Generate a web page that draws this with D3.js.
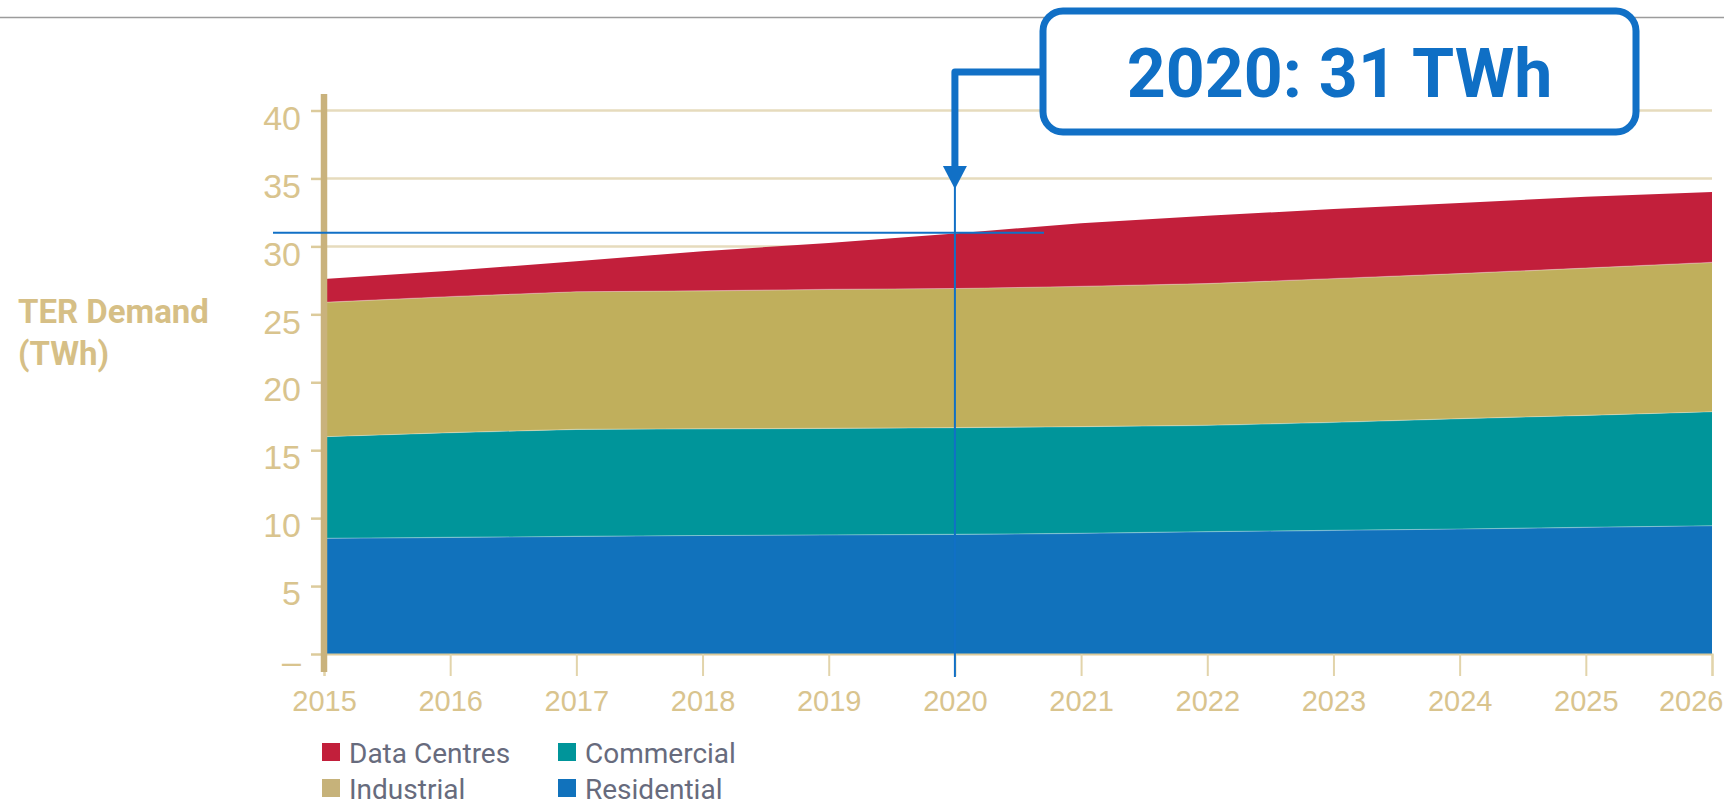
<!DOCTYPE html>
<html>
<head>
<meta charset="utf-8">
<script src="https://cdn.jsdelivr.net/npm/d3@7"></script>
<style>
  body { margin: 0; background: #fff; }
  svg { display: block; font-family: Roboto, "Open Sans", sans-serif; }
</style>
</head>
<body>
<div id="chart"></div>
<script>
// values (TWh)
const years = [2015, 2016, 2017, 2018, 2019, 2020, 2021, 2022, 2023, 2024, 2025, 2026];
const residential = [8.51, 8.58, 8.65, 8.72, 8.76, 8.80, 8.88, 9.00, 9.10, 9.20, 9.32, 9.44];
const commercial  = [7.48, 7.71, 7.88, 7.85, 7.84, 7.86, 7.85, 7.83, 7.95, 8.12, 8.24, 8.39];
const industrial  = [9.89, 10.01, 10.13, 10.16, 10.23, 10.24, 10.32, 10.43, 10.57, 10.68, 10.84, 10.99];
const dataCentres = [1.72, 1.90, 2.24, 2.92, 3.42, 4.05, 4.65, 4.99, 5.13, 5.20, 5.25, 5.18];
const seriesKeys = ["Residential", "Commercial", "Industrial", "Data Centres"];
const yTicks = [0, 5, 10, 15, 20, 25, 30, 35, 40];
const annotYear = 2020;
const annotValue = 31;
const annotLabel = "2020: 31 TWh";

function init() {
    const w = 1724;
    const h = 805;

    const colors = {
        "Residential": "#1172bc",
        "Commercial": "#00959a",
        "Industrial": "#c0af5c",
        "Data Centres": "#c21f3b"
    };

    const table = years.map((yr, i) => ({
        year: yr,
        "Residential": residential[i],
        "Commercial": commercial[i],
        "Industrial": industrial[i],
        "Data Centres": dataCentres[i]
    }));

    const stacked = d3.stack().keys(seriesKeys)(table);

    const svg = d3.select("#chart")
        .append("svg")
        .attr("width", w)
        .attr("height", h);

    const x = d3.scaleLinear().domain([2015, 2026]).range([324, 1712]);
    const y = d3.scaleLinear().domain([0, 40]).range([654, 110.5]);

    // top separator
    svg.append("line")
        .attr("x1", 0).attr("x2", w)
        .attr("y1", 17.5).attr("y2", 17.5)
        .attr("stroke", "#9c9c9c")
        .attr("stroke-width", 1.5);

    // gridlines
    svg.selectAll("line.grid")
        .data(yTicks.filter(d => d > 0))
        .enter()
        .append("line")
        .attr("class", "grid")
        .attr("x1", x(2015)).attr("x2", x(2026))
        .attr("y1", d => y(d)).attr("y2", d => y(d))
        .attr("stroke", "#e6dbbd")
        .attr("stroke-width", 2.5);

    // stacked areas
    const area = d3.area()
        .x(d => x(d.data.year))
        .y0(d => y(d[0]))
        .y1(d => y(d[1]));

    svg.selectAll("path.layer")
        .data(stacked)
        .enter()
        .append("path")
        .attr("class", "layer")
        .attr("d", area)
        .attr("fill", d => colors[d.key]);

    // faint light seam on top of each layer
    const topLine = d3.line()
        .x(d => x(d.data.year))
        .y(d => y(d[1]));
    svg.selectAll("path.seam")
        .data(stacked.slice(0, 3))
        .enter()
        .append("path")
        .attr("class", "seam")
        .attr("d", topLine)
        .attr("fill", "none")
        .attr("stroke", "rgba(255,255,255,0.3)")
        .attr("stroke-width", 1.2);

    // x axis
    const xAxis = svg.append("g")
        .attr("transform", `translate(0,${y(0)})`)
        .call(d3.axisBottom(x)
            .tickValues(years)
            .tickFormat(d3.format("d"))
            .tickSize(22)
            .tickPadding(14));
    xAxis.select(".domain")
        .attr("stroke", "#dccb9c")
        .attr("stroke-width", 2);
    xAxis.selectAll(".tick line")
        .attr("stroke", "#e2d4ab")
        .attr("stroke-width", 2);
    xAxis.selectAll(".tick text")
        .attr("fill", "#d9c48e")
        .attr("font-size", "29px");
    xAxis.selectAll(".tick text")
        .filter(d => d === 2026)
        .attr("text-anchor", "end")
        .attr("x", 11);

    // y axis
    const yAxis = svg.append("g")
        .attr("transform", `translate(${x(2015)},0)`)
        .call(d3.axisLeft(y)
            .tickValues(yTicks)
            .tickFormat(d => d === 0 ? "–" : d)
            .tickSize(13)
            .tickPadding(10));
    yAxis.select(".domain").remove();
    yAxis.selectAll(".tick line")
        .attr("stroke", "#dccb9c")
        .attr("stroke-width", 2.5);
    yAxis.selectAll(".tick text")
        .attr("fill", "#d9c48e")
        .attr("font-size", "34px")
        .attr("dy", "0.55em");

    // thick vertical axis bar
    svg.append("line")
        .attr("x1", x(2015)).attr("x2", x(2015))
        .attr("y1", 94).attr("y2", 672)
        .attr("stroke", "#c9b27c")
        .attr("stroke-width", 6.5);

    // y title
    const title = svg.append("text")
        .attr("x", 18)
        .attr("y", 323)
        .attr("fill", "#d6bf86")
        .attr("font-size", "33px")
        .attr("font-weight", "bold");
    title.append("tspan").attr("x", 18).text("TER Demand");
    title.append("tspan").attr("x", 18).attr("dy", 42).text("(TWh)");

    // legend
    const legendItems = [
        { key: "Data Centres", col: 0, row: 0 },
        { key: "Commercial", col: 1, row: 0 },
        { key: "Industrial", col: 0, row: 1 },
        { key: "Residential", col: 1, row: 1 }
    ];
    const lg = svg.selectAll("g.legend")
        .data(legendItems)
        .enter()
        .append("g")
        .attr("class", "legend")
        .attr("transform", d => `translate(${322 + d.col * 236},${743 + d.row * 36})`);
    lg.append("rect")
        .attr("width", 18)
        .attr("height", 18)
        .attr("fill", d => d.key === "Industrial" ? "#c6b27a" : colors[d.key]);
    lg.append("text")
        .attr("x", 27)
        .attr("y", 20)
        .attr("font-size", "28px")
        .attr("fill", "#676b7d")
        .text(d => d.key);

    // annotation: 31 TWh level + 2020 marker
    const blue = "#1170c6";
    svg.append("line")
        .attr("x1", 273).attr("x2", 1044)
        .attr("y1", y(annotValue)).attr("y2", y(annotValue))
        .attr("stroke", blue)
        .attr("stroke-width", 2);

    svg.append("line")
        .attr("x1", x(annotYear)).attr("x2", x(annotYear))
        .attr("y1", 186).attr("y2", 677)
        .attr("stroke", blue)
        .attr("stroke-width", 2);

    // elbow connector from callout box
    svg.append("path")
        .attr("d", `M1043,72 H${x(annotYear)} V168`)
        .attr("fill", "none")
        .attr("stroke", blue)
        .attr("stroke-width", 7)
        .attr("stroke-linejoin", "round");
    svg.append("path")
        .attr("d", `M${x(annotYear) - 12},166 L${x(annotYear) + 12},166 L${x(annotYear)},189 Z`)
        .attr("fill", blue);

    svg.append("rect")
        .attr("x", 1043)
        .attr("y", 11)
        .attr("width", 593)
        .attr("height", 121)
        .attr("rx", 20)
        .attr("fill", "#fff")
        .attr("stroke", blue)
        .attr("stroke-width", 7);
    svg.append("text")
        .attr("x", 1339.5)
        .attr("y", 97)
        .attr("text-anchor", "middle")
        .attr("font-size", "68px")
        .attr("font-weight", "bold")
        .attr("fill", "#0f6fc5")
        .text(annotLabel);
}

window.onload = init;
</script>
</body>
</html>
